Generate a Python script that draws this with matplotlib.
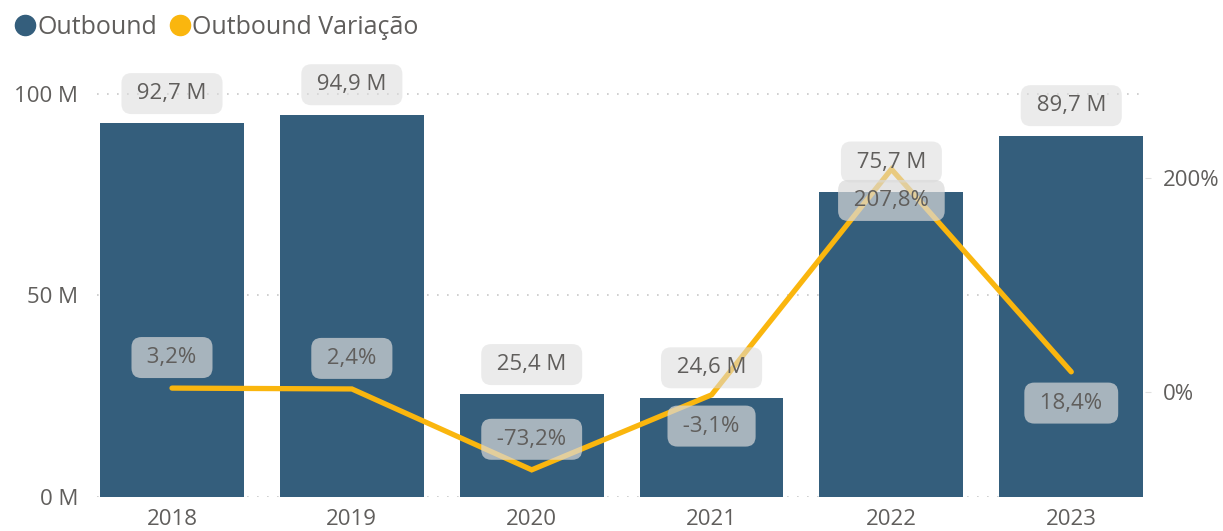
import matplotlib
matplotlib.use("Agg")
import matplotlib.pyplot as plt
from matplotlib.lines import Line2D

plt.rcParams['font.family'] = ['Open Sans', 'DejaVu Sans']

years = ["2018", "2019", "2020", "2021", "2022", "2023"]
outbound_m = [92.7, 94.9, 25.4, 24.6, 75.7, 89.7]
variacao_pct = [3.2, 2.4, -73.2, -3.1, 207.8, 18.4]
var_label_side = ["above", "above", "above", "below", "below", "below"]

BAR_COLOR = "#345E7C"
LINE_COLOR = "#FAB60E"
TEXT_COLOR = "#605E5C"

def fmt_num(v, suffix):
    return f"{v:.1f}".replace(".", ",") + suffix

fig = plt.figure(figsize=(12.23, 5.31), dpi=100)
W, H = 1223, 531
left, right = 97 / W, 1145 / W
bottom, top = (H - 496.7) / H, (H - 70) / H
ax = fig.add_axes([left, bottom, right - left, top - bottom])
ax2 = ax.twinx()

x = list(range(len(years)))
ax.bar(x, outbound_m, width=0.8, color=BAR_COLOR, zorder=2)
ax.set_xlim(-0.417, 5.41)
ax.set_ylim(0, 105.97)
ax.set_yticks([0, 50, 100])
ax.set_yticklabels(["0 M", "50 M", "100 M"])
ax.set_xticks(x)
ax.set_xticklabels(years)
ax.yaxis.grid(True, linestyle=(0, (1, 5)), color="#C8C8C8", linewidth=1.2, zorder=0)
ax.set_axisbelow(True)
for s in ax.spines.values():
    s.set_visible(False)
for s in ax2.spines.values():
    s.set_visible(False)
ax.tick_params(axis='y', length=0, labelsize=16, labelcolor=TEXT_COLOR, pad=13.5)
ax.tick_params(axis='x', length=0, labelsize=16, labelcolor=TEXT_COLOR, pad=9)

ax2.plot(x, variacao_pct, color=LINE_COLOR, linewidth=3.8, solid_capstyle='round',
         solid_joinstyle='miter', zorder=3)
ax2.set_ylim(-98.3, 300.5)
ax2.set_yticks([0, 200])
ax2.set_yticklabels(["0%", "200%"])
ax2.tick_params(axis='y', length=4, color="#E0E0E0", labelsize=16, labelcolor=TEXT_COLOR, pad=9)

def to_ax2(xi, v):
    disp = ax.transData.transform((xi, v))
    return ax2.transData.inverted().transform(disp)[1]

for xi, v in zip(x, outbound_m):
    ax2.annotate(" " + fmt_num(v, " M") + " ", xy=(xi, to_ax2(xi, v)),
                 xytext=(0, 21.5), textcoords="offset points", ha="center", va="center",
                 fontsize=16, color=TEXT_COLOR, zorder=5,
                 bbox=dict(boxstyle="round,pad=0.45,rounding_size=0.45", facecolor="#DCDCDC",
                           edgecolor="none", alpha=0.55))

for xi, v, side in zip(x, variacao_pct, var_label_side):
    dy = 22 if side == "above" else -22.5
    ax2.annotate(" " + fmt_num(v, "%") + " ", xy=(xi, v), xytext=(0, dy),
                 textcoords="offset points", ha="center", va="center",
                 fontsize=16, color=TEXT_COLOR, zorder=5,
                 bbox=dict(boxstyle="round,pad=0.45,rounding_size=0.45", facecolor="#D9D9D9",
                           edgecolor="none", alpha=0.7))

handles = [Line2D([], [], marker='o', linestyle='none', markersize=14.5, color=BAR_COLOR),
           Line2D([], [], marker='o', linestyle='none', markersize=14.5, color=LINE_COLOR)]
fig.legend(handles, ["Outbound", "Outbound Variação"], loc="upper left",
           bbox_to_anchor=(0.0, 1.005), ncol=2, frameon=False, fontsize=18,
           handlelength=0.6, handletextpad=0.2, columnspacing=0.6, labelcolor=TEXT_COLOR,
           borderaxespad=0.3)

fig.savefig("out.png", dpi=100)
